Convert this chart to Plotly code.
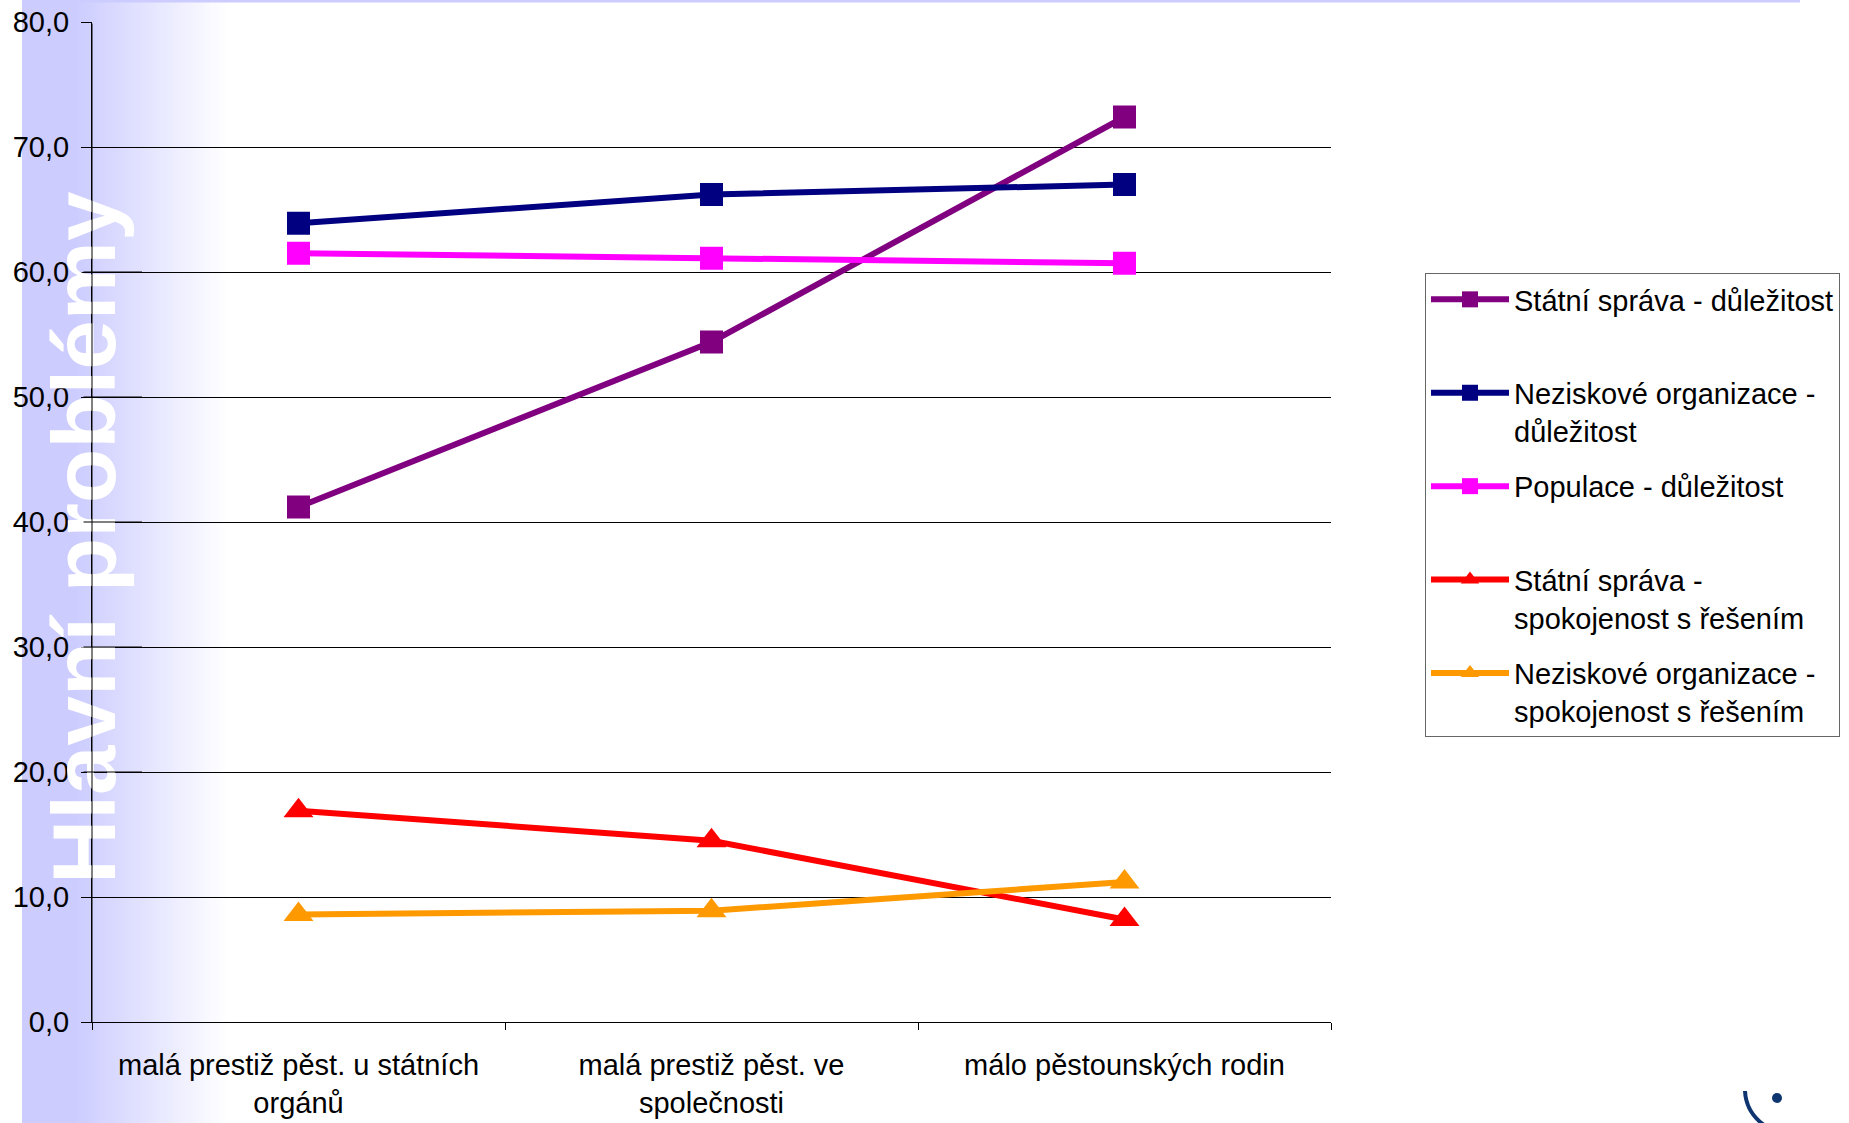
import plotly.graph_objects as go

# ---------------- data ----------------
categories = [
    "malá prestiž pěst. u státních orgánů",
    "malá prestiž pěst. ve společnosti",
    "málo pěstounských rodin",
]
tick_labels = [
    "malá prestiž pěst. u státních<br>orgánů",
    "malá prestiž pěst. ve<br>společnosti",
    "málo pěstounských rodin",
]
series_names = [
    "Státní správa - důležitost",
    "Neziskové organizace -<br>důležitost",
    "Populace - důležitost",
    "Státní správa -<br>spokojenost s řešením",
    "Neziskové organizace -<br>spokojenost s řešením",
]
statni_dulezitost = [41.2, 54.4, 72.4]
neziskove_dulezitost = [63.9, 66.2, 67.0]
populace_dulezitost = [61.5, 61.1, 60.7]
statni_spokojenost = [16.9, 14.5, 8.2]
neziskove_spokojenost = [8.6, 8.9, 11.2]
y_ticks = [0, 10, 20, 30, 40, 50, 60, 70, 80]
side_title = "Hlavní problémy"

series_values = [statni_dulezitost, neziskove_dulezitost, populace_dulezitost,
                 statni_spokojenost, neziskove_spokojenost]
colors = ["#800080", "#000080", "#FF00FF", "#FF0000", "#FF9900"]
symbols = ["square", "square", "square", "triangle-up", "triangle-up"]
msizes = [23, 23, 23, 26, 26]

# ---------------- layout geometry ----------------
W, H = 1849, 1123
ML, MR, MT, MB = 92, 518, 22, 101
PW = W - ML - MR
PH = H - MT - MB
FONT = "Liberation Sans, Arial, sans-serif"


def px_x(px):
    return (px - ML) / PW


def px_y(py):
    return (H - MB - py) / PH


fig = go.Figure()
for i, (name, vals) in enumerate(zip(series_names, series_values)):
    legend_name = name if "<br>" in name else name + "<br> "
    fig.add_trace(go.Scatter(
        x=categories, y=vals, name=legend_name, mode="lines+markers",
        line=dict(color=colors[i], width=6),
        marker=dict(symbol=symbols[i], size=msizes[i], color=colors[i], line=dict(width=0)),
        legendgroup=f"g{i}",
    ))

shapes = []
# solid band on the left
shapes.append(dict(type="rect", xref="paper", yref="paper", layer="below",
                   x0=px_x(22), x1=px_x(74), y0=px_y(H), y1=px_y(0),
                   fillcolor="#CCCCFF", line=dict(width=0)))
# gradient strips
g0, g1 = 73, 228
n = int((g1 - g0) / 2)
for k in range(n):
    t = (k + 0.5) / n
    c = int(204 + (255 - 204) * t)
    shapes.append(dict(type="rect", xref="paper", yref="paper", layer="below",
                       x0=px_x(g0 + 2 * k), x1=px_x(g0 + 2 * k + 2.2),
                       y0=px_y(H), y1=px_y(0),
                       fillcolor=f"rgb({c},{c},255)", line=dict(width=0)))
# thin top line
shapes.append(dict(type="rect", xref="paper", yref="paper", layer="below",
                   x0=px_x(22), x1=px_x(1800), y0=px_y(2.5), y1=px_y(0),
                   fillcolor="#CCCCFF", line=dict(width=0)))
# logo fragment bottom right
shapes.append(dict(type="circle", xref="paper", yref="paper",
                   x0=px_x(1772), x1=px_x(1782), y0=px_y(1103), y1=px_y(1093),
                   fillcolor="#0F3570", line=dict(width=0)))
shapes.append(dict(type="path", xref="paper", yref="paper",
                   path=f"M {px_x(1745)},{px_y(1091)} Q {px_x(1746)},{px_y(1112)} {px_x(1764)},{px_y(1125)}",
                   line=dict(color="#0F3570", width=4)))

annotations = [dict(
    text=f"<b>{side_title}</b>", textangle=-90, showarrow=False,
    xref="paper", yref="paper", x=px_x(84), y=px_y(538),
    xanchor="center", yanchor="middle",
    font=dict(family=FONT, size=89, color="white"),
)]
# redraw axis line and grid segments above the side title (as in the original)
annotations.append(dict(text="", showarrow=True, arrowhead=0, arrowwidth=1, arrowcolor="black",
                        xref="paper", yref="y", x=0, y=0, axref="pixel", ayref="y", ax=0, ay=80,
                        standoff=0, startstandoff=0))
for v in [20, 30, 40, 50, 60]:
    annotations.append(dict(text="", showarrow=True, arrowhead=0, arrowwidth=1, arrowcolor="black",
                            xref="paper", yref="y", x=px_x(142), y=v, axref="pixel", ax=-60, ay=0,
                            standoff=0, startstandoff=0))

fig.update_layout(
    width=W, height=H,
    margin=dict(l=ML, r=MR, t=MT, b=MB, autoexpand=False),
    paper_bgcolor="white", plot_bgcolor="rgba(0,0,0,0)",
    separators=", ",
    font=dict(family=FONT, size=29, color="black"),
    showlegend=True,
    legend=dict(x=px_x(1425), y=px_y(273), xanchor="left", yanchor="top",
                bgcolor="white", bordercolor="#666666", borderwidth=1,
                font=dict(family=FONT, size=29, color="black"),
                valign="top", tracegroupgap=15, traceorder="grouped",
                itemwidth=78),
    shapes=shapes, annotations=annotations,
    xaxis=dict(type="category", categoryorder="array", categoryarray=categories,
               tickvals=categories, ticktext=tick_labels, range=[-0.5, 2.5],
               tickson="boundaries", ticks="outside", ticklen=7, tickcolor="black",
               showline=True, linecolor="black", linewidth=1, showgrid=False,
               zeroline=False, ticklabelstandoff=17),
    yaxis=dict(range=[0, 80], tickvals=y_ticks, tickformat=".1f", ticks="outside",
               ticklen=10, tickcolor="black", showline=True, linecolor="black",
               linewidth=1, showgrid=True, gridcolor="black", gridwidth=1,
               zeroline=False, ticklabelstandoff=6),
)

fig.write_html("out.html", config={"displayModeBar": False},
               post_script="document.body.style.margin='0';document.body.style.overflow='hidden';")
